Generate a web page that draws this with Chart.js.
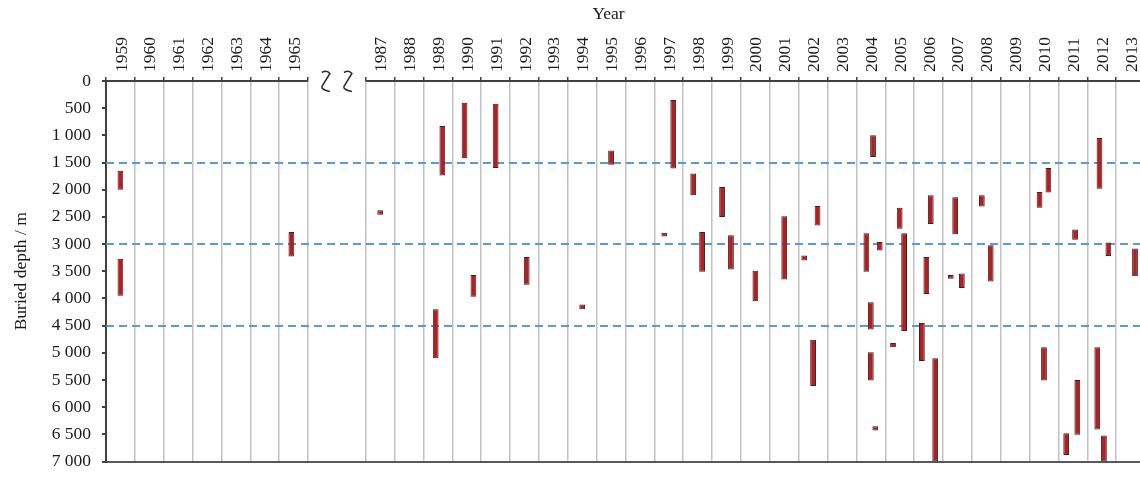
<!DOCTYPE html>
<html>
<head>
<meta charset="utf-8">
<title>Buried depth by year</title>
<script src="https://cdn.jsdelivr.net/npm/chart.js@4/dist/chart.umd.min.js"></script>
<style>
    html, body { margin: 0; padding: 0; background: #ffffff; overflow: hidden; }
    #depthChart { display: block; }
</style>
</head>
<body>
<canvas id="depthChart" width="1150" height="483"></canvas>
<script>
const earlyYears = ['1959', '1960', '1961', '1962', '1963', '1964', '1965'];
const lateYears = ['1987', '1988', '1989', '1990', '1991', '1992', '1993', '1994', '1995', '1996',
    '1997', '1998', '1999', '2000', '2001', '2002', '2003', '2004', '2005', '2006',
    '2007', '2008', '2009', '2010', '2011', '2012', '2013'];
// two empty categories make the axis break between 1965 and 1987
const categories = [...earlyYears, '', '', ...lateYears];

// one entry per interval: year, position inside the year column, top and bottom depth (m)
const intervalYear = ['1959', '1959', '1965', '1987', '1989', '1989', '1990', '1990', '1991', '1992',
    '1994', '1995', '1997', '1997', '1998', '1998', '1999', '1999', '2000', '2001',
    '2002', '2002', '2002', '2004', '2004', '2004', '2004', '2004', '2004', '2005',
    '2005', '2005', '2006', '2006', '2006', '2006', '2007', '2007', '2007', '2008',
    '2008', '2010', '2010', '2010', '2011', '2011', '2011', '2012', '2012', '2012',
    '2012', '2013'];
const intervalSlot = [0, 0, -1, 0, 2, -1, -1, 3, 0, 1,
    0, 0, -2, 2, -2, 2, -2, 2, 0, 0,
    2, -4, 0, 1, -2, 4, 0, 0, 2, 0,
    2, -3, -3, -1, 1, 3, -1, -3, 2, -2,
    2, -2, 2, 0, 1, -3, 2, -1, 3, -2,
    1, 2];
const intervalTop = [1650, 3270, 2780, 2380, 830, 4200, 400, 3570, 420, 3240,
    4110, 1280, 2790, 350, 1700, 2780, 1950, 2840, 3490, 2490,
    2300, 3210, 4760, 1000, 2800, 2960, 4070, 4990, 6350, 2330,
    2800, 4820, 4450, 3240, 2100, 5100, 2140, 3570, 3540, 2100,
    3020, 2040, 1600, 4900, 2730, 6480, 5500, 1050, 2970, 4900,
    6520, 3080];
const intervalBottom = [2000, 3950, 3230, 2460, 1740, 5100, 1420, 3970, 1600, 3750,
    4200, 1540, 2860, 1610, 2100, 3510, 2500, 3470, 4050, 3650,
    2660, 3300, 5610, 1400, 3510, 3120, 4570, 5510, 6430, 2720,
    4600, 4900, 5150, 3920, 2630, 7000, 2820, 3640, 3810, 2310,
    3690, 2330, 2050, 5510, 2920, 6880, 6510, 1980, 3220, 6410,
    7000, 3590];

const depthLimits = [1500, 3000, 4500];
const slotRange = 6;

function buildDatasets() {
    const datasets = [];
    for (let k = -slotRange; k <= slotRange; k++) {
        const layers = [];
        intervalYear.forEach((year, i) => {
            if (intervalSlot[i] !== k) return;
            const idx = categories.indexOf(year);
            let layer = layers.find((l) => l[idx] === null);
            if (!layer) {
                layer = categories.map(() => null);
                layers.push(layer);
            }
            layer[idx] = [intervalTop[i], intervalBottom[i]];
        });
        if (!layers.length) layers.push(categories.map(() => null));
        layers.forEach((data) => {
            datasets.push({
                data,
                stack: 'slot' + k,
                backgroundColor: '#b21f23',
                borderColor: '#3a2222',
                borderWidth: 1,
                borderSkipped: false,
                barPercentage: 2.6,
                categoryPercentage: 1
            });
        });
    }
    return datasets;
}

function isGapLine(i) {
    return categories[i] === '' && categories[i - 1] === '';
}

const serif = '"Liberation Serif", "Times New Roman", serif';
Chart.defaults.font.family = serif;
Chart.defaults.font.size = 17.5;
Chart.defaults.color = '#1a1a1a';

const decorations = {
    id: 'decorations',
    beforeDatasetsDraw(chart) {
        const { ctx, chartArea, scales } = chart;
        ctx.save();
        ctx.strokeStyle = '#5b9bd5';
        ctx.lineWidth = 2;
        ctx.setLineDash([8, 5]);
        depthLimits.forEach((d) => {
            const y = Math.round(scales.y.getPixelForValue(d));
            ctx.beginPath();
            ctx.moveTo(chartArea.left, y);
            ctx.lineTo(chartArea.right, y);
            ctx.stroke();
        });
        ctx.restore();
    },
    afterDraw(chart) {
        const { ctx, chartArea, scales } = chart;
        const x = scales.x;
        const colWidth = (chartArea.right - chartArea.left) / categories.length;
        const firstGap = categories.indexOf('');
        const gapStart = x.getPixelForValue(firstGap) - colWidth / 2;
        const gapEnd = x.getPixelForValue(firstGap + 2) - colWidth / 2;
        const top = chartArea.top;

        ctx.save();
        // top axis line, broken over the gap
        ctx.strokeStyle = '#404040';
        ctx.lineWidth = 2;
        ctx.beginPath();
        ctx.moveTo(chartArea.left, top);
        ctx.lineTo(gapStart, top);
        ctx.moveTo(gapEnd, top);
        ctx.lineTo(chartArea.right, top);
        ctx.stroke();

        // break marks
        ctx.strokeStyle = '#2a2a2a';
        ctx.lineWidth = 1.5;
        const mid = (gapStart + gapEnd) / 2;
        [mid - 11, mid + 11].forEach((cx) => {
            const cy = top + 0.5;
            ctx.beginPath();
            ctx.moveTo(cx - 4, cy - 9);
            ctx.quadraticCurveTo(cx + 1, cy - 12, cx + 4, cy - 8);
            ctx.lineTo(cx - 4, cy + 5);
            ctx.quadraticCurveTo(cx - 5, cy + 8, cx + 4, cy + 10);
            ctx.stroke();
        });

        // axis title
        ctx.fillStyle = '#1a1a1a';
        ctx.font = '17.5px ' + serif;
        ctx.textAlign = 'center';
        ctx.textBaseline = 'alphabetic';
        ctx.fillText('Year', (chartArea.left + chartArea.right) / 2 - 17, 19);
        ctx.restore();
    }
};

new Chart(document.getElementById('depthChart'), {
    type: 'bar',
    data: {
        labels: categories,
        datasets: buildDatasets()
    },
    options: {
        responsive: false,
        animation: false,
        layout: { padding: { left: 0, top: 0, right: 5, bottom: 10 } },
        plugins: {
            legend: { display: false },
            tooltip: { enabled: false }
        },
        scales: {
            x: {
                position: 'top',
                offset: true,
                afterFit: (scale) => { scale.height = 81; },
                border: { display: false },
                grid: {
                    offset: true,
                    lineWidth: 1.5,
                    color: (c) => isGapLine(c.index) ? 'rgba(0,0,0,0)' : '#c2c2c2',
                    tickColor: (c) => isGapLine(c.index) ? 'rgba(0,0,0,0)' : '#404040',
                    tickLength: 4
                },
                ticks: {
                    autoSkip: false,
                    minRotation: 90,
                    maxRotation: 90,
                    labelOffset: 22.5,
                    padding: 5
                }
            },
            y: {
                reverse: true,
                stacked: false,
                min: 0,
                max: 7000,
                afterFit: (scale) => { scale.width = 106; },
                border: { color: '#404040', width: 2 },
                grid: {
                    lineWidth: 2,
                    color: (c) => (c.tick && c.tick.value === 7000) ? '#595959' : 'rgba(0,0,0,0)',
                    tickColor: '#404040',
                    tickLength: 4
                },
                ticks: {
                    stepSize: 500,
                    padding: 11,
                    callback: (v) => String(v).replace(/\B(?=(\d{3})+(?!\d))/g, ' ')
                },
                title: {
                    display: true,
                    text: 'Buried depth / m',
                    padding: { top: 11, bottom: 0 }
                }
            }
        }
    },
    plugins: [decorations]
});
</script>
</body>
</html>
